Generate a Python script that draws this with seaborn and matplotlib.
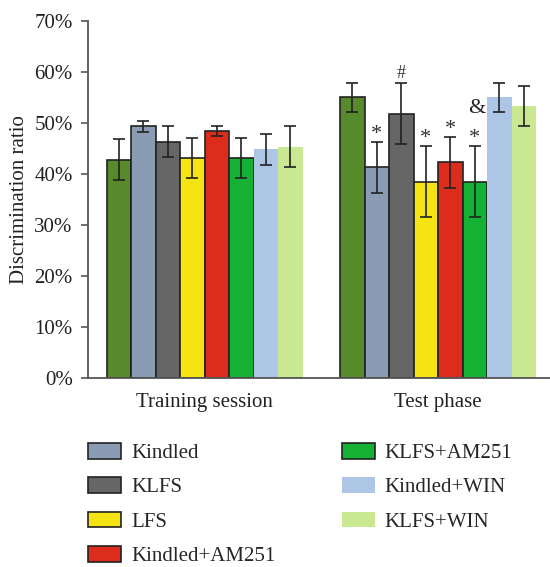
import numpy as np
import pandas as pd
import matplotlib
matplotlib.use('Agg')
import matplotlib.pyplot as plt
import seaborn as sns
from matplotlib.patches import Patch

sns.set_style('ticks')
plt.rcParams['font.family'] = ['Liberation Serif', 'DejaVu Serif']

# data
groups = ['Control', 'Kindled', 'KLFS', 'LFS', 'Kindled+AM251',
          'KLFS+AM251', 'Kindled+WIN', 'KLFS+WIN']
phases = ['Training session', 'Test phase']
train_mean = [42.8, 49.3, 46.3, 43.1, 48.4, 43.1, 44.8, 45.3]
train_err = [4.0, 1.0, 3.0, 4.0, 1.0, 4.0, 3.0, 4.0]
test_mean = [55.0, 41.3, 51.8, 38.5, 42.3, 38.5, 55.0, 53.3]
test_err = [2.9, 5.0, 6.0, 7.0, 5.0, 7.0, 2.9, 4.0]
test_marks = ['', '*', '#', '*', '*', '*', '&', '']

colors = ['#568a2a', '#8a9bb4', '#666666', '#f5e313', '#dc2c1c',
          '#14b135', '#adc6e6', '#c9e891']
edged = [True, True, True, True, True, True, False, False]

df = pd.DataFrame({
    'phase': [phases[0]] * 8 + [phases[1]] * 8,
    'group': groups * 2,
    'value': train_mean + test_mean,
    'err': train_err + test_err,
})

fig = plt.figure(figsize=(5.5, 5.67), dpi=100)
ax = fig.add_axes([0.16, 0.3333, 0.84, 0.63])

sns.barplot(data=df, x='phase', y='value', hue='group', order=phases,
            hue_order=groups, palette=dict(zip(groups, colors)),
            width=0.84, errorbar=None, legend=False, saturation=1,
            linewidth=1.2, edgecolor='#222222', ax=ax)

bar_conts = list(ax.containers)
for i, cont in enumerate(bar_conts):
    for j, bar in enumerate(cont):
        if not edged[i]:
            bar.set_edgecolor('none')
        xc = bar.get_x() + bar.get_width() / 2
        h = bar.get_height()
        e = train_err[i] if j == 0 else test_err[i]
        ax.errorbar(xc, h, yerr=e, fmt='none', ecolor='#222222',
                    elinewidth=1.2, capsize=4, capthick=1.2, zorder=5)
        if j == 1 and test_marks[i]:
            m = test_marks[i]
            if m == '&':
                ax.annotate(m, (xc, h), xytext=(-16, -8),
                            textcoords='offset points', ha='center',
                            va='center', fontsize=16, color='#222222')
            elif m == '*':
                ax.annotate(m, (xc, h + e), xytext=(0, -1.5),
                            textcoords='offset points', ha='center',
                            va='bottom', fontsize=16, color='#333333')
            else:
                ax.annotate(m, (xc, h + e), xytext=(0, 0.5),
                            textcoords='offset points', ha='center',
                            va='bottom', fontsize=13, color='#333333')

ax.set_ylim(0, 70)
ax.set_xlim(-0.5, 1.48)
ax.set_yticks(np.arange(0, 71, 10))
ax.set_yticklabels([f'{v}%' for v in range(0, 71, 10)])
ax.set_ylabel('Discrimination ratio', fontsize=15, color='#222222')
ax.set_xlabel('')
ax.tick_params(axis='x', length=0, pad=11, labelsize=15, labelcolor='#222222')
ax.tick_params(axis='y', length=5, width=1.2, color='#555555', labelsize=15,
               labelcolor='#222222', pad=6)
for s in ['top', 'right']:
    ax.spines[s].set_visible(False)
for s in ['left', 'bottom']:
    ax.spines[s].set_color('#555555')
    ax.spines[s].set_linewidth(1.3)

handles = [Patch(facecolor=c, edgecolor='#222222' if ed else 'none',
                 linewidth=1.2) for c, ed in zip(colors[1:], edged[1:])]
fig.legend(handles, groups[1:], ncol=2, loc='upper left',
           bbox_to_anchor=(88 / 550, 1 - 443 / 567), frameon=False,
           fontsize=15, handlelength=1.58, handleheight=0.77,
           handletextpad=0.48, labelspacing=0.69, columnspacing=3.2,
           borderpad=0, borderaxespad=0)

fig.savefig('out.png', dpi=100)
